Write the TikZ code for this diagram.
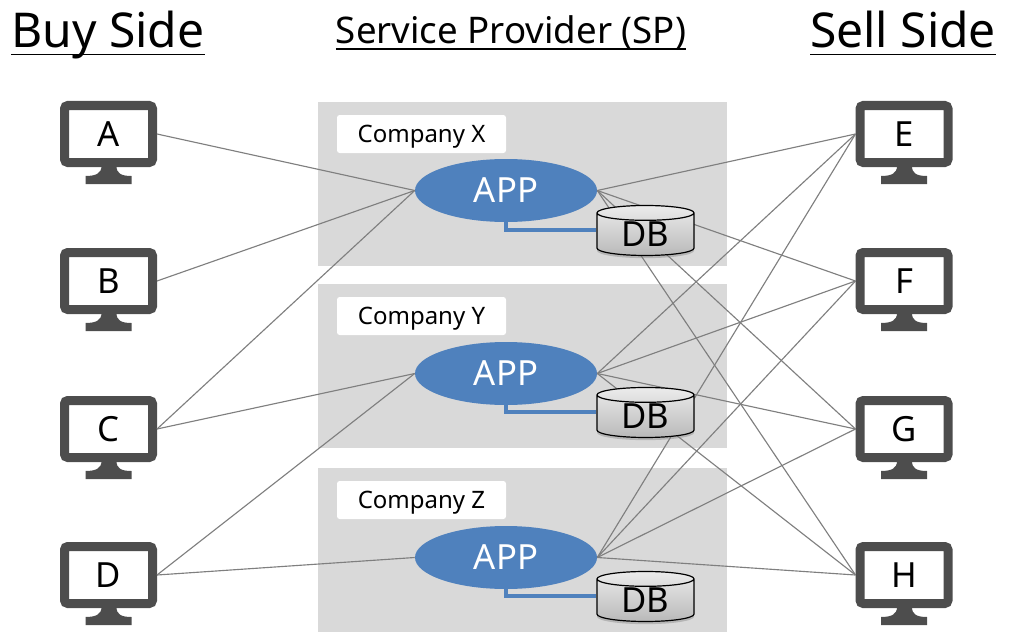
\documentclass[tikz,border=0pt]{standalone}
\usepackage{fontspec}
\setmainfont{Noto Sans}
\usetikzlibrary{shapes.geometric,shadows}

\definecolor{panelgray}{HTML}{D9D9D9}
\definecolor{appblue}{HTML}{4F81BD}
\definecolor{monitorgray}{HTML}{4D4D4D}
\definecolor{linkgray}{HTML}{7F7F7F}

\newcommand{\titleline}[1]{\vtop{\hbox{\smash{#1}}\kern.12em\hrule height 1.3pt}}

\tikzset{
	title/.style={anchor=base,font=\fontsize{36}{40}\selectfont},
	subtitle/.style={anchor=base,font=\fontsize{27.5}{30}\selectfont},
	panel/.style={shape=rectangle,fill=panelgray,minimum width=306.75pt,minimum height=123pt,inner sep=0pt},
	tag/.style={shape=rectangle,fill=white,rounded corners=2pt,minimum width=126.75pt,minimum height=28.5pt,inner sep=0pt,text depth=0pt,font=\fontsize{18}{20}\selectfont},
	app/.style={shape=ellipse,fill=appblue,text=white,minimum width=136.5pt,minimum height=47.25pt,inner sep=0pt,text depth=0pt,font=\fontsize{26}{28}\selectfont},
	db/.style={shape=cylinder,shape border rotate=90,aspect=.31,draw=black,line width=.9pt,top color=gray!15,bottom color=gray!55,drop shadow={opacity=.4,shadow xshift=0pt,shadow yshift=-2pt},minimum width=72.75pt,minimum height=37.5pt,inner sep=0pt,text depth=0pt,font=\fontsize{26}{28}\selectfont},
	monitor/.style={shape=rectangle,draw=monitorgray,fill=white,line width=6.75pt,rounded corners=2.5pt,minimum width=66pt,minimum height=42.75pt,inner sep=0pt,text depth=0pt,font=\fontsize{26}{28}\selectfont},
	link/.style={draw=linkgray,line width=.85pt},
	dblink/.style={draw=appblue,line width=3pt}
}

% stand below a monitor screen
\newcommand{\monitorstand}[1]{
	\fill[monitorgray,shift={(#1.south)}] (-7,-1) -- (8,-1) .. controls (8,6) and (12,9) .. (23,9) -- (23,17) -- (-23,17) -- (-23,9) .. controls (-12,9) and (-7,6) .. (-7,-1) -- cycle;
}

\begin{document}
\begin{tikzpicture}[x=.75pt,y=-.75pt]
	
	\useasboundingbox (0,0) rectangle (1010,635);
	
	\node[title] (buy) at (108, 48) {\titleline{Buy Side}};
	\node[subtitle] (sp) at (511, 44) {\titleline{Service Provider (SP)}};
	\node[title] (sell) at (903, 48) {\titleline{Sell Side}};
	
	\node[panel] (panelx) at (522.5, 184) {};
	\node[panel] (panely) at (522.5, 366) {};
	\node[panel] (panelz) at (522.5, 550) {};
	
	\node[tag] (tagx) at (421.5, 134) {Company X};
	\node[tag] (tagy) at (421.5, 316) {Company Y};
	\node[tag] (tagz) at (421.5, 500) {Company Z};
	
	\node[app] (appx) at (506, 190.5) {APP};
	\node[app] (appy) at (506, 373.5) {APP};
	\node[app] (appz) at (506, 557.5) {APP};
	
	\node[monitor] (a) at (108.5, 134) {A};
	\node[monitor] (b) at (108.5, 281) {B};
	\node[monitor] (c) at (108.5, 429) {C};
	\node[monitor] (d) at (108.5, 575) {D};
	\node[monitor] (e) at (904, 134) {E};
	\node[monitor] (f) at (904, 281) {F};
	\node[monitor] (g) at (904, 429) {G};
	\node[monitor] (h) at (904, 575) {H};
	
	\monitorstand{a}
	\monitorstand{b}
	\monitorstand{c}
	\monitorstand{d}
	\monitorstand{e}
	\monitorstand{f}
	\monitorstand{g}
	\monitorstand{h}
	
	\path[link] (a.east) edge (appx.west);
	\path[link] (b.east) edge (appx.west);
	\path[link] (c.east) edge (appx.west);
	\path[link] (c.east) edge (appy.west);
	\path[link] (d.east) edge (appy.west);
	\path[link] (d.east) edge (appz.west);
	\path[link] (appx.east) edge (e.west);
	\path[link] (appx.east) edge (f.west);
	\path[link] (appx.east) edge (g.west);
	\path[link] (appx.east) edge (h.west);
	\path[link] (appy.east) edge (e.west);
	\path[link] (appy.east) edge (f.west);
	\path[link] (appy.east) edge (g.west);
	\path[link] (appy.east) edge (h.west);
	\path[link] (appz.east) edge (e.west);
	\path[link] (appz.east) edge (f.west);
	\path[link] (appz.east) edge (g.west);
	\path[link] (appz.east) edge (h.west);
	
	\node[db] (dbx) at (645.5, 234.5) {DB};
	\node[db] (dby) at (645.5, 416.5) {DB};
	\node[db] (dbz) at (645.5, 600.5) {DB};
	
	\draw[dblink] (appx.south) |- ([yshift=3.4pt]dbx.west);
	\draw[dblink] (appy.south) |- ([yshift=3.4pt]dby.west);
	\draw[dblink] (appz.south) |- ([yshift=3.4pt]dbz.west);
	
\end{tikzpicture}
\end{document}
